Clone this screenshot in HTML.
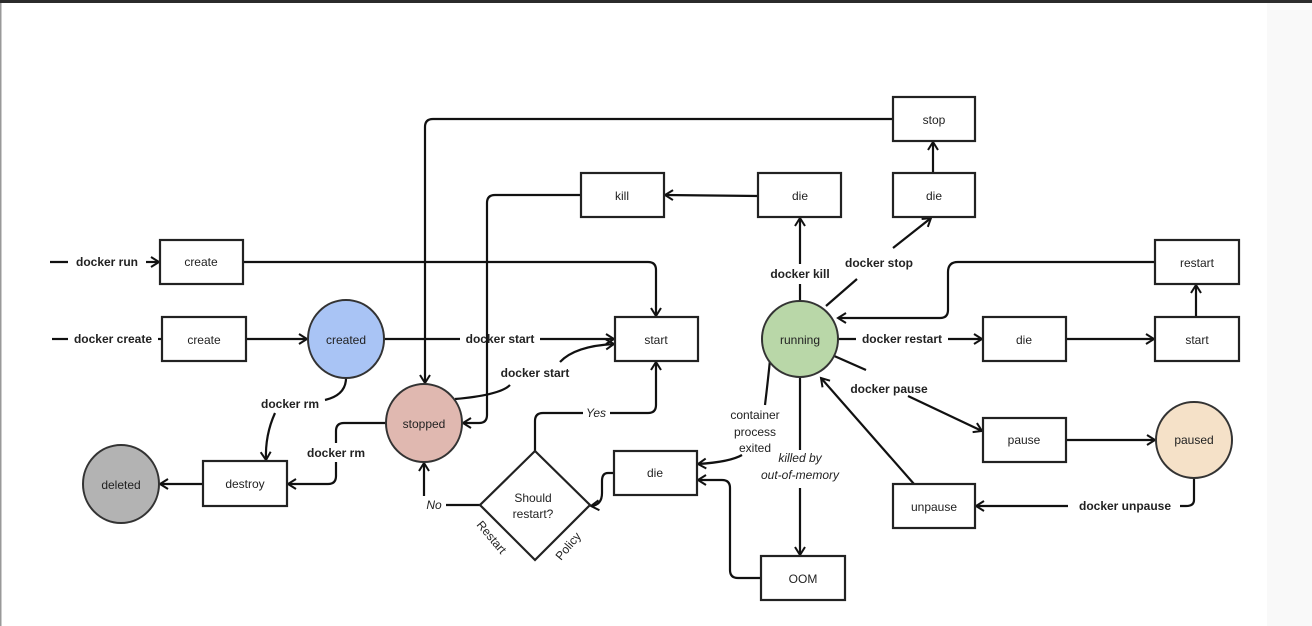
<!DOCTYPE html>
<html><head><meta charset="utf-8"><style>
html,body{margin:0;padding:0;background:#fff;}
svg{display:block;}
text{font-family:"Liberation Sans",sans-serif;font-size:12px;fill:#222;}
.b{font-weight:bold;}
.i{font-style:italic;}
</style></head><body>
<svg width="1312" height="626" viewBox="0 0 1312 626" xmlns="http://www.w3.org/2000/svg">
<defs>
<marker id="a" markerWidth="12" markerHeight="12" refX="9" refY="6" orient="auto" markerUnits="userSpaceOnUse">
<path d="M1,1 L9,6 L1,11" fill="none" stroke="#111" stroke-width="2"/>
</marker>
</defs>
<rect x="0" y="0" width="1312" height="626" fill="#fff"/>
<rect x="1267" y="3" width="45" height="623" fill="#f9f9f9"/>
<rect x="0" y="0" width="1312" height="3" fill="#2b2b2b"/>
<rect x="0" y="3" width="1.5" height="623" fill="#999"/>

<g fill="none" stroke="#111" stroke-width="2.2">
<line x1="50" y1="262" x2="68" y2="262"/>
<line x1="146" y1="262" x2="159" y2="262" marker-end="url(#a)"/>
<path d="M243,262 H648 Q656,262 656,270 V316" marker-end="url(#a)"/>
<line x1="52" y1="339" x2="68" y2="339"/>
<line x1="158" y1="339" x2="162" y2="339"/>
<line x1="246" y1="339" x2="307" y2="339" marker-end="url(#a)"/>
<line x1="384" y1="339" x2="460" y2="339"/>
<line x1="540" y1="339" x2="614" y2="339" marker-end="url(#a)"/>
<path d="M455,399 Q500,395 510,385"/>
<path d="M560,362 Q575,346 614,344" marker-end="url(#a)"/>
<path d="M893,119 H433 Q425,119 425,127 V383" marker-end="url(#a)"/>
<path d="M581,195 H495 Q487,195 487,203 V415 Q487,423 479,423 H463" marker-end="url(#a)"/>
<line x1="758" y1="196" x2="665" y2="195" marker-end="url(#a)"/>
<line x1="800" y1="301" x2="800" y2="284"/>
<line x1="800" y1="264" x2="800" y2="218" marker-end="url(#a)"/>
<line x1="826" y1="306" x2="857" y2="279"/>
<line x1="893" y1="248" x2="931" y2="218" marker-end="url(#a)"/>
<line x1="933" y1="173" x2="933" y2="142" marker-end="url(#a)"/>
<path d="M1155,262 H958 Q948,262 948,272 V310 Q948,318 940,318 H838" marker-end="url(#a)"/>
<line x1="838" y1="339" x2="856" y2="339"/>
<line x1="948" y1="339" x2="982" y2="339" marker-end="url(#a)"/>
<line x1="1066" y1="339" x2="1154" y2="339" marker-end="url(#a)"/>
<line x1="1196" y1="317" x2="1196" y2="285" marker-end="url(#a)"/>
<line x1="832" y1="355" x2="866" y2="370"/>
<line x1="908" y1="396" x2="982" y2="431" marker-end="url(#a)"/>
<line x1="1066" y1="440" x2="1155" y2="440" marker-end="url(#a)"/>
<path d="M1194,478 V500 Q1194,506 1186,506 H1180"/>
<line x1="1068" y1="506" x2="976" y2="506" marker-end="url(#a)"/>
<line x1="914" y1="484" x2="821" y2="378" marker-end="url(#a)"/>
<line x1="800" y1="377" x2="800" y2="450"/>
<line x1="800" y1="488" x2="800" y2="555" marker-end="url(#a)"/>
<path d="M770,360 Q768,380 765,405"/>
<path d="M742,455 Q730,462 698,464" marker-end="url(#a)"/>
<path d="M761,578 H738 Q730,578 730,570 V488 Q730,480 722,480 H698" marker-end="url(#a)"/>
<path d="M614,473 H608 Q602,473 602,481 V493 Q602,505 591,506" marker-end="url(#a)"/>
<path d="M535,451 V421 Q535,413 543,413 H583"/>
<path d="M610,413 H648 Q656,413 656,405 V362" marker-end="url(#a)"/>
<line x1="480" y1="505" x2="446" y2="505"/>
<line x1="424" y1="496" x2="424" y2="463" marker-end="url(#a)"/>
<path d="M346,378 Q346,395 325,400"/>
<path d="M275,413 Q265,435 266,460" marker-end="url(#a)"/>
<path d="M386,423 H344 Q336,423 336,431 V443"/>
<path d="M336,462 V476 Q336,484 328,484 H288" marker-end="url(#a)"/>
<line x1="203" y1="484" x2="160" y2="484" marker-end="url(#a)"/>
</g>

<g fill="#fff" stroke="#222" stroke-width="2.2">
<rect x="160" y="240" width="83" height="44"/>
<rect x="162" y="317" width="84" height="44"/>
<rect x="615" y="317" width="83" height="44"/>
<rect x="203" y="461" width="84" height="45"/>
<rect x="581" y="173" width="83" height="44"/>
<rect x="758" y="173" width="83" height="44"/>
<rect x="893" y="173" width="82" height="44"/>
<rect x="893" y="97" width="82" height="44"/>
<rect x="1155" y="240" width="84" height="44"/>
<rect x="983" y="317" width="83" height="44"/>
<rect x="1155" y="317" width="84" height="44"/>
<rect x="983" y="418" width="83" height="44"/>
<rect x="893" y="484" width="82" height="44"/>
<rect x="614" y="451" width="83" height="44"/>
<rect x="761" y="556" width="84" height="44"/>
<polygon points="535,451 590,505 535,560 480,505"/>
</g>
<g stroke="#333" stroke-width="2">
<ellipse cx="346" cy="339" rx="38" ry="39" fill="#a9c4f5"/>
<ellipse cx="800" cy="339" rx="38" ry="38" fill="#b9d7a8"/>
<ellipse cx="424" cy="423" rx="38" ry="39" fill="#e0b8b0"/>
<ellipse cx="121" cy="484" rx="38" ry="39" fill="#b3b3b3"/>
<ellipse cx="1194" cy="440" rx="38" ry="38" fill="#f5e1c8"/>
</g>

<g text-anchor="middle">
<text x="201" y="266">create</text>
<text x="204" y="344">create</text>
<text x="346" y="344">created</text>
<text x="656" y="344">start</text>
<text x="800" y="344">running</text>
<text x="424" y="428">stopped</text>
<text x="121" y="489">deleted</text>
<text x="245" y="488">destroy</text>
<text x="622" y="200">kill</text>
<text x="800" y="200">die</text>
<text x="934" y="200">die</text>
<text x="934" y="124">stop</text>
<text x="1197" y="267">restart</text>
<text x="1024" y="344">die</text>
<text x="1197" y="344">start</text>
<text x="1024" y="444">pause</text>
<text x="1194" y="444">paused</text>
<text x="934" y="511">unpause</text>
<text x="655" y="477">die</text>
<text x="803" y="583">OOM</text>
<text x="533" y="502">Should</text>
<text x="533" y="518">restart?</text>

<text class="b" x="107" y="266">docker run</text>
<text class="b" x="113" y="343">docker create</text>
<text class="b" x="500" y="343">docker start</text>
<text class="b" x="535" y="377">docker start</text>
<text class="b" x="800" y="278">docker kill</text>
<text class="b" x="879" y="267">docker stop</text>
<text class="b" x="902" y="343">docker restart</text>
<text class="b" x="889" y="393">docker pause</text>
<text class="b" x="1125" y="510">docker unpause</text>
<text class="b" x="290" y="408">docker rm</text>
<text class="b" x="336" y="457">docker rm</text>
<text x="755" y="419">container</text>
<text x="755" y="436">process</text>
<text x="755" y="452">exited</text>
<text class="i" x="800" y="462">killed by</text>
<text class="i" x="800" y="479">out-of-memory</text>
<text class="i" x="596" y="417">Yes</text>
<text class="i" x="434" y="509">No</text>
</g>
<text transform="translate(476,525) rotate(50)">Restart</text>
<text transform="translate(561,561) rotate(-50)">Policy</text>
</svg>
</body></html>
